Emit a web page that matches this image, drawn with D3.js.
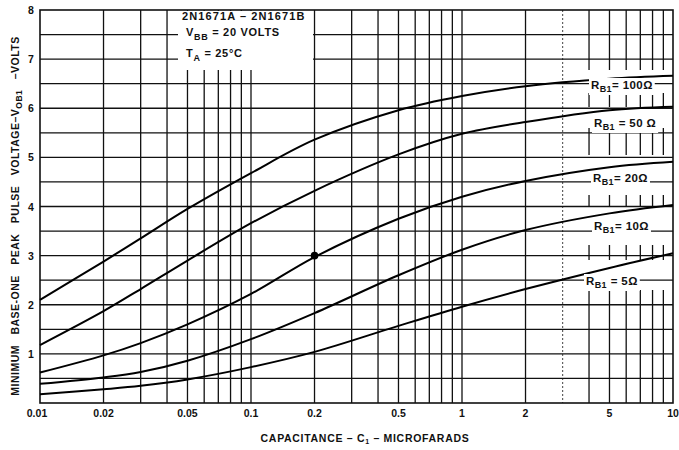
<!DOCTYPE html>
<html>
<head>
<meta charset="utf-8">
<script src="https://cdn.jsdelivr.net/npm/d3@7"></script>
<style>
  body { margin: 0; background: #fff; }
  svg { display: block; font-family: "Liberation Sans", Arial, sans-serif; font-weight: bold; fill: #111; }
</style>
</head>
<body>
<script>
const capacitance = [0.01, 0.02, 0.03, 0.05, 0.1, 0.2, 0.5, 1, 2, 5, 10]
// minimum base-one peak pulse voltage, one list per R_B1
const vRb100 = [2.10, 2.88, 3.35, 3.95, 4.68, 5.36, 5.96, 6.25, 6.45, 6.60, 6.66]
const vRb50 = [1.18, 1.87, 2.32, 2.90, 3.66, 4.32, 5.06, 5.48, 5.72, 5.96, 6.03]
const vRb20 = [0.62, 0.97, 1.22, 1.60, 2.22, 2.97, 3.75, 4.20, 4.52, 4.80, 4.91]
const vRb10 = [0.39, 0.52, 0.63, 0.86, 1.30, 1.83, 2.60, 3.12, 3.52, 3.86, 4.03]
const vRb5 = [0.18, 0.28, 0.35, 0.48, 0.73, 1.04, 1.57, 1.96, 2.32, 2.75, 3.05]
const resistances = ['100Ω', '50 Ω', '20Ω', '10Ω', '5Ω']
// the marked point on the 20 ohm curve
const markC = [0.2]
const markV = [3.0]
// ticks
const xTickValues = [0.01, 0.02, 0.05, 0.1, 0.2, 0.5, 1, 2, 5, 10]
const xTickLabels = ['0.01', '0.02', '0.05', '0.1', '0.2', '0.5', '1', '2', '5', '10']
const yTickValues = [1, 2, 3, 4, 5, 6, 7, 8]

const W = 679
const H = 450
const margin = { top: 10, right: 6, bottom: 47, left: 40 }

const x = d3.scaleLog().domain([0.01, 10]).range([margin.left, W - margin.right])
const y = d3.scaleLinear().domain([0, 8]).range([H - margin.bottom, margin.top])

const svg = d3.select('body').append('svg')
  .attr('width', W)
  .attr('height', H)

// vertical grid: 2..9 of every decade, full height
const grid = svg.append('g').attr('stroke', '#111').attr('fill', 'none')
grid.selectAll('line.v')
  .data(x.ticks().filter(d => d > 0.01 && d < 10))
  .enter().append('line')
  .attr('class', 'v')
  .attr('x1', d => x(d)).attr('x2', d => x(d))
  .attr('y1', y(8)).attr('y2', y(0))
  .attr('stroke-width', d => Math.abs(d - 3) < 1e-9 ? 0.8 : 1.3)
  .attr('stroke-dasharray', d => Math.abs(d - 3) < 1e-9 ? '2,2' : null)

// white bands behind the curve labels (vertical lines broken there in the original)
const bands = [[70, 93], [107, 128], [155, 195], [207, 245], [260, 290]]
svg.append('g').selectAll('rect')
  .data(bands)
  .enter().append('rect')
  .attr('x', 576).attr('width', 93)
  .attr('y', d => d[0]).attr('height', d => d[1] - d[0])
  .attr('fill', '#fff')

// horizontal grid every half volt
svg.append('g').selectAll('line')
  .data(d3.range(0.5, 8, 0.5))
  .enter().append('line')
  .attr('x1', x(0.01))
  .attr('x2', x(10))
  .attr('y1', d => y(d)).attr('y2', d => y(d))
  .attr('stroke', '#111')
  .attr('stroke-width', 1.3)

// title box covers the grid at top
svg.append('rect')
  .attr('x', 178).attr('y', 11).attr('width', 135).attr('height', 59)
  .attr('fill', '#fff')

// frame
svg.append('rect')
  .attr('x', x(0.01)).attr('y', y(8))
  .attr('width', x(10) - x(0.01)).attr('height', y(0) - y(8))
  .attr('fill', 'none').attr('stroke', '#111').attr('stroke-width', 1.6)

// curve labels with tight white background
const labelLayout = [
  { x: 591, y: 89 },
  { x: 594, y: 127 },
  { x: 593, y: 182 },
  { x: 594, y: 230 },
  { x: 586, y: 285 }
]
const labels = svg.append('g').attr('font-size', 11.5).attr('letter-spacing', 0.4)
resistances.forEach((r, i) => {
  const p = labelLayout[i]
  const t = labels.append('text').attr('x', p.x).attr('y', p.y)
  t.append('tspan').text('R')
  t.append('tspan').attr('dy', 3).attr('font-size', 9).text('B1')
  t.append('tspan').attr('dy', -3).text((i === 4 ? '  = ' : (i === 1 ? ' = ' : '= ')) + r)
  const bb = t.node().getBBox()
  labels.insert('rect', 'text')
    .attr('x', bb.x - 2).attr('y', bb.y - 1)
    .attr('width', bb.width + 4).attr('height', bb.height + 2)
    .attr('fill', '#fff')
})

// curves
const line = d3.line()
  .x(d => x(d[0]))
  .y(d => y(d[1]))
  .curve(d3.curveCatmullRom.alpha(0.5))

const series = [vRb100, vRb50, vRb20, vRb10, vRb5]
svg.append('g').selectAll('path')
  .data(series)
  .enter().append('path')
  .attr('d', s => line(capacitance.map((c, i) => [c, s[i]])))
  .attr('fill', 'none')
  .attr('stroke', '#000')
  .attr('stroke-width', 2)

svg.append('g').selectAll('circle')
  .data(markC)
  .enter().append('circle')
  .attr('cx', d => x(d))
  .attr('cy', (d, i) => y(markV[i]))
  .attr('r', 3.8)
  .attr('fill', '#000')

// bring labels to the front
labels.raise()

// tick labels
svg.append('g').attr('font-size', 10.5).attr('text-anchor', 'middle')
  .selectAll('text')
  .data(xTickValues)
  .enter().append('text')
  .attr('x', d => x(d) - (d === 0.01 ? 3 : 0))
  .attr('y', 417)
  .text((d, i) => xTickLabels[i])

svg.append('g').attr('font-size', 10.5).attr('text-anchor', 'middle')
  .selectAll('text')
  .data(yTickValues)
  .enter().append('text')
  .attr('x', 31)
  .attr('y', d => y(d) + 4)
  .text(d => d)

// title block
const title = svg.append('g').attr('font-size', 11).attr('letter-spacing', 0.7)
title.append('text').attr('x', 182).attr('y', 20)
  .attr('letter-spacing', 1.1)
  .text('2N1671A  – 2N1671B')
const vbb = title.append('text').attr('x', 186).attr('y', 36)
vbb.append('tspan').text('V')
vbb.append('tspan').attr('dy', 4).attr('font-size', 9).text('BB')
vbb.append('tspan').attr('dy', -4).text(' = 20 VOLTS')
const ta = title.append('text').attr('x', 186).attr('y', 57)
ta.append('tspan').text('T')
ta.append('tspan').attr('dy', 4).attr('font-size', 9).text('A')
ta.append('tspan').attr('dy', -4).text(' = 25°C')

// axis titles
const xt = svg.append('text')
  .attr('x', 365).attr('y', 442)
  .attr('text-anchor', 'middle')
  .attr('font-size', 10.5)
  .attr('letter-spacing', 0.7)
xt.append('tspan').text('CAPACITANCE  – C')
xt.append('tspan').attr('dy', 2).attr('font-size', 7).text('1')
xt.append('tspan').attr('dy', -2).text('  –  MICROFARADS')

const yt = svg.append('text')
  .attr('transform', 'translate(19,216) rotate(-90)')
  .attr('text-anchor', 'middle')
  .attr('font-size', 10.5)
  .attr('word-spacing', 7)
  .attr('letter-spacing', 0.5)
yt.append('tspan').text('MINIMUM BASE-ONE PEAK PULSE VOLTAGE–V')
yt.append('tspan').attr('dy', 3).attr('font-size', 8.5).text('OB1')
yt.append('tspan').attr('dy', -3).text(' –VOLTS')
</script>
</body>
</html>
